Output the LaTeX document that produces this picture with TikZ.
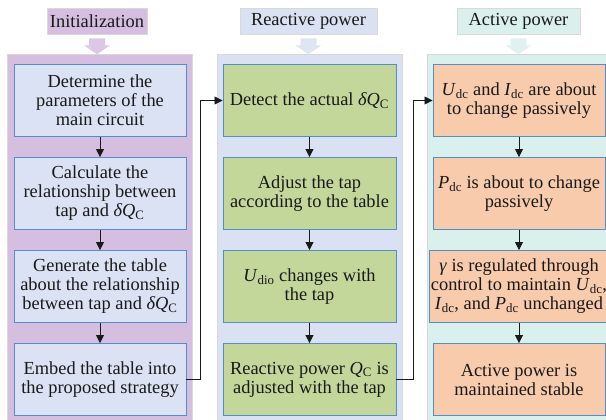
\documentclass[tikz,border=0pt]{standalone}
\usepackage{fontspec}
\setmainfont{Liberation Serif}
\usetikzlibrary{arrows.meta}
\definecolor{initbg}{RGB}{214,190,224}
\definecolor{reactbg}{RGB}{218,225,242}
\definecolor{actbg}{RGB}{218,240,237}
\definecolor{initfill}{RGB}{218,226,243}
\definecolor{reactfill}{RGB}{196,215,155}
\definecolor{actfill}{RGB}{248,203,173}
\definecolor{boxline}{RGB}{84,141,203}
\newcommand{\dQ}{\textit{δQ}\textsubscript{C}}

\begin{document}
\begin{tikzpicture}[x=1pt,y=-1pt,
  txt/.style={font=\fontsize{18.4}{19}\selectfont,text=black!90},
  head/.style={txt,draw=black!15,line width=0.6pt,minimum height=26pt,inner sep=0pt},
  box/.style={txt,draw=boxline,line width=0.9pt,minimum width=172pt,minimum height=72pt,align=center,inner sep=1pt},
  flow/.style={-{Triangle[length=8pt,width=8pt]},line width=0.8pt,black!90}]

\useasboundingbox (0,0) rectangle (606,420);

\fill[initbg,draw=black!15] (7,54) rectangle (192,421);
\fill[reactbg,draw=black!15] (217,54) rectangle (402,421);
\fill[actbg,draw=black!15] (427,54) rectangle (607,421);

\node[head,fill=initbg,minimum width=100pt] (hInit) at (97,21) {Initialization};
\node[head,fill=reactbg,minimum width=137pt] (hReact) at (308.5,21) {Reactive power};
\node[head,fill=actbg,minimum width=123pt] (hAct) at (518.5,21) {Active power};

\foreach \h/\col in {hInit/initbg,hReact/reactbg,hAct/actbg}
  \fill[\col!85] ([yshift=-4pt]\h.south) ++(-8,0) -- ++(16,0) -- ++(0,7) -- ++(5,0)
    -- ++(-13,9) -- ++(-13,-9) -- ++(5,0) -- cycle;

\node[box,fill=initfill] (init1) at (100,100.5) {Determine the\\parameters of the\\main circuit};
\node[box,fill=initfill] (init2) at (100,193.5) {Calculate the\\relationship between\\tap and \dQ};
\node[box,fill=initfill] (init3) at (100,286.5) {Generate the table\\about the relationship\\between tap and \dQ};
\node[box,fill=initfill] (init4) at (100,379.5) {Embed the table into\\the proposed strategy};

\node[box,fill=reactfill,minimum width=173pt] (react1) at (309.5,100.5) {Detect the actual \dQ};
\node[box,fill=reactfill,minimum width=173pt] (react2) at (309.5,193.5) {Adjust the tap\\according to the table};
\node[box,fill=reactfill,minimum width=173pt] (react3) at (309.5,286.5) {\textit{U}\textsubscript{dio} changes with\\the tap};
\node[box,fill=reactfill,minimum width=173pt] (react4) at (309.5,379.5) {Reactive power \textit{Q}\textsubscript{C} is\\adjusted with the tap};

\node[box,fill=actfill] (act1) at (519,100.5) {\textit{U}\textsubscript{dc} and \textit{I}\textsubscript{dc} are about\\to change passively};
\node[box,fill=actfill] (act2) at (519,193.5) {\textit{P}\textsubscript{dc} is about to change\\passively};
\node[box,fill=actfill] (act3) at (519,286.5) {\textit{γ} is regulated through\\control to maintain \textit{U}\textsubscript{dc},\\\textit{I}\textsubscript{dc}, and \textit{P}\textsubscript{dc} unchanged};
\node[box,fill=actfill] (act4) at (519,379.5) {Active power is\\maintained stable};

\foreach \c in {init,react,act} {
  \draw[flow] (\c1) -- (\c2);
  \draw[flow] (\c2) -- (\c3);
  \draw[flow] (\c3) -- (\c4);
}

\coordinate (turnA) at (200,0);
\coordinate (turnB) at (413,0);
\draw[flow] (init4.east) -- (init4.east -| turnA) -- (react1.west -| turnA) -- (react1.west);
\draw[flow] (react4.east) -- (react4.east -| turnB) -- (act1.west -| turnB) -- (act1.west);
\end{tikzpicture}
\end{document}
